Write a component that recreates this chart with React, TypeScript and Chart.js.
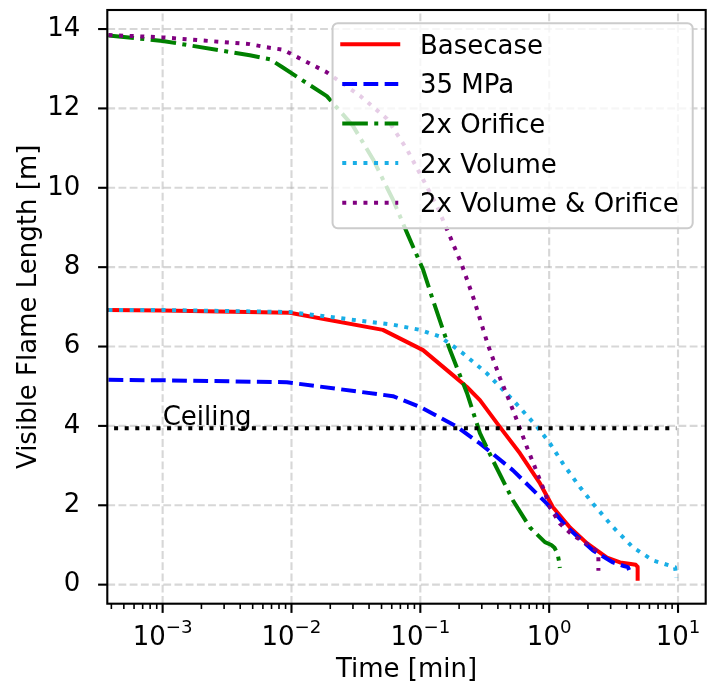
import React, { useEffect, useRef } from 'react';
import { Chart, registerables } from 'chart.js';

Chart.register(...registerables);

const FONT_FAMILY = '"DejaVu Sans", "Liberation Sans", sans-serif';

// Time [min] and visible flame length [m] for each release scenario
const BASECASE_TIME = [3.8e-4, 1e-3, 9.7e-3, 0.0512, 0.105, 0.179, 0.23, 0.29, 0.415, 0.593, 0.849, 1.07, 1.45, 1.97, 2.81, 3.55, 4.3, 4.7, 4.86, 4.86];
const BASECASE_FLAME = [6.92, 6.91, 6.85, 6.42, 5.91, 5.28, 4.98, 4.65, 3.97, 3.31, 2.55, 1.95, 1.44, 1.04, 0.68, 0.56, 0.52, 0.5, 0.45, 0.15];

const MPA35_TIME = [3.8e-4, 1e-3, 9.2e-3, 0.0613, 0.0993, 0.192, 0.29, 0.524, 0.961, 1.375, 2.19, 3.13, 3.8, 4.09, 4.17];
const MPA35_FLAME = [5.16, 5.15, 5.1, 4.75, 4.48, 3.98, 3.56, 2.88, 2.04, 1.45, 0.86, 0.56, 0.47, 0.44, 0.37];

const ORIFICE2X_TIME = [3.8e-4, 1e-3, 4.75e-3, 6.8e-3, 8.57e-3, 0.0188, 0.03, 0.0429, 0.0613, 0.0787, 0.105, 0.125, 0.15, 0.17, 0.23, 0.29, 0.366, 0.524, 0.71, 0.927, 1.04, 1.1, 1.16, 1.2, 1.21];
const ORIFICE2X_FLAME = [13.84, 13.7, 13.34, 13.24, 13.03, 12.31, 11.56, 10.72, 9.7, 8.87, 7.94, 7.18, 6.42, 5.91, 4.83, 3.82, 3.13, 2.12, 1.44, 1.07, 1.0, 0.93, 0.78, 0.55, 0.42];

const VOLUME2X_TIME = [3.8e-4, 1e-3, 9.7e-3, 0.0613, 0.0993, 0.142, 0.214, 0.329, 0.524, 0.804, 1.014, 1.28, 1.73, 2.19, 3.13, 4.47, 6.4, 9.48, 9.7];
const VOLUME2X_FLAME = [6.92, 6.92, 6.87, 6.55, 6.42, 6.25, 5.83, 5.32, 4.65, 3.98, 3.56, 3.05, 2.46, 2.04, 1.45, 0.94, 0.61, 0.44, 0.18];

const VOLUME_ORIFICE_TIME = [3.8e-4, 1e-3, 4.75e-3, 6.44e-3, 8.57e-3, 0.0188, 0.034, 0.0551, 0.0787, 0.105, 0.135, 0.17, 0.21, 0.261, 0.335, 0.415, 0.524, 0.673, 0.895, 1.015, 1.21, 1.53, 2.07, 2.31, 2.41, 2.41];
const VOLUME_ORIFICE_FLAME = [13.85, 13.79, 13.62, 13.54, 13.48, 12.91, 12.32, 11.74, 10.97, 10.21, 9.53, 8.77, 8.06, 7.18, 6.04, 5.21, 4.4, 3.46, 2.45, 1.95, 1.54, 1.24, 0.99, 0.86, 0.73, 0.35];

const CEILING_TIME = [4.2e-4, 9.7];
const CEILING_HEIGHT = 3.94;
const CEILING_LABEL = 'Ceiling';
const CEILING_LABEL_TIME = 1e-3;
const CEILING_LABEL_HEIGHT = 4.02;

const X_TICKS = [1e-3, 1e-2, 1e-1, 1, 10];
const X_TICK_EXPONENTS = ['−3', '−2', '−1', '0', '1'];
const Y_TICKS = [0, 2, 4, 6, 8, 10, 12, 14];

const X_LIMITS = [3.72e-4, 16.4];
const Y_LIMITS = [-0.48, 14.48];

const X_TITLE = 'Time [min]';
const Y_TITLE = 'Visible Flame Length [m]';

const LW = 4;
const SERIES = [
  { label: 'Basecase', time: BASECASE_TIME, flame: BASECASE_FLAME, color: '#ff0000', dash: [] as number[], cap: 'square' },
  { label: '35 MPa', time: MPA35_TIME, flame: MPA35_FLAME, color: '#0000ff', dash: [3.7 * LW, 1.6 * LW], cap: 'butt' },
  { label: '2x Orifice', time: ORIFICE2X_TIME, flame: ORIFICE2X_FLAME, color: '#008000', dash: [6.4 * LW, 1.6 * LW, 1 * LW, 1.6 * LW], cap: 'butt' },
  { label: '2x Volume', time: VOLUME2X_TIME, flame: VOLUME2X_FLAME, color: '#19aee6', dash: [1 * LW, 1.65 * LW], cap: 'butt' },
  { label: '2x Volume & Orifice', time: VOLUME_ORIFICE_TIME, flame: VOLUME_ORIFICE_FLAME, color: '#800080', dash: [1 * LW, 1.65 * LW], cap: 'butt' },
];

const FONT_SIZE = 26;
const TICK_MAJOR = 9.2;
const TICK_MINOR = 5.3;
const SPINE_W = 2.1;

function roundRectPath(ctx: CanvasRenderingContext2D, x: number, y: number, w: number, h: number, r: number) {
  ctx.beginPath();
  ctx.moveTo(x + r, y);
  ctx.lineTo(x + w - r, y);
  ctx.arcTo(x + w, y, x + w, y + r, r);
  ctx.lineTo(x + w, y + h - r);
  ctx.arcTo(x + w, y + h, x + w - r, y + h, r);
  ctx.lineTo(x + r, y + h);
  ctx.arcTo(x, y + h, x, y + h - r, r);
  ctx.lineTo(x, y + r);
  ctx.arcTo(x, y, x + r, y, r);
  ctx.closePath();
}

const axesDecor = {
  id: 'axesDecor',
  beforeDatasetsDraw(chart: any) {
    const { ctx, chartArea } = chart;
    const xs = chart.scales.x;
    const ys = chart.scales.y;
    ctx.save();
    ctx.strokeStyle = 'rgba(176,176,176,0.5)';
    ctx.lineWidth = 2.1;
    ctx.setLineDash([7.8, 3.4]);
    for (const v of X_TICKS) {
      const px = xs.getPixelForValue(v);
      ctx.beginPath();
      ctx.moveTo(px, chartArea.bottom);
      ctx.lineTo(px, chartArea.top);
      ctx.stroke();
    }
    for (const v of Y_TICKS) {
      const py = ys.getPixelForValue(v);
      ctx.beginPath();
      ctx.moveTo(chartArea.left, py);
      ctx.lineTo(chartArea.right, py);
      ctx.stroke();
    }
    ctx.restore();
  },
  afterDatasetsDraw(chart: any) {
    const { ctx, chartArea } = chart;
    const { left, right, top, bottom } = chartArea;
    const xs = chart.scales.x;
    const ys = chart.scales.y;
    ctx.save();

    // ceiling annotation
    ctx.fillStyle = '#000';
    ctx.font = `${FONT_SIZE}px ${FONT_FAMILY}`;
    ctx.textAlign = 'left';
    ctx.textBaseline = 'alphabetic';
    ctx.fillText(CEILING_LABEL, xs.getPixelForValue(CEILING_LABEL_TIME), ys.getPixelForValue(CEILING_LABEL_HEIGHT));

    // spines
    ctx.setLineDash([]);
    ctx.strokeStyle = '#000';
    ctx.lineWidth = SPINE_W;
    ctx.lineJoin = 'miter';
    ctx.strokeRect(left, top, right - left, bottom - top);

    // tick marks
    ctx.lineCap = 'butt';
    ctx.lineWidth = 2.1;
    for (const v of X_TICKS) {
      const px = xs.getPixelForValue(v);
      ctx.beginPath();
      ctx.moveTo(px, bottom);
      ctx.lineTo(px, bottom + TICK_MAJOR);
      ctx.stroke();
    }
    for (const v of Y_TICKS) {
      const py = ys.getPixelForValue(v);
      ctx.beginPath();
      ctx.moveTo(left, py);
      ctx.lineTo(left - TICK_MAJOR, py);
      ctx.stroke();
    }
    ctx.lineWidth = 1.6;
    for (let e = -4; e <= 1; e++) {
      for (let k = 2; k <= 9; k++) {
        const v = k * Math.pow(10, e);
        if (v <= X_LIMITS[0] || v >= X_LIMITS[1]) continue;
        const px = xs.getPixelForValue(v);
        ctx.beginPath();
        ctx.moveTo(px, bottom);
        ctx.lineTo(px, bottom + TICK_MINOR);
        ctx.stroke();
      }
    }

    // x tick labels: 10 with superscript exponent
    ctx.textBaseline = 'alphabetic';
    ctx.textAlign = 'left';
    X_TICKS.forEach((v, i) => {
      const px = xs.getPixelForValue(v);
      ctx.font = `${FONT_SIZE}px ${FONT_FAMILY}`;
      const w1 = ctx.measureText('10').width;
      ctx.font = `${FONT_SIZE * 0.7}px ${FONT_FAMILY}`;
      const w2 = ctx.measureText(X_TICK_EXPONENTS[i]).width;
      const start = px - (w1 + w2) / 2;
      ctx.font = `${FONT_SIZE}px ${FONT_FAMILY}`;
      ctx.fillText('10', start, bottom + 41.3);
      ctx.font = `${FONT_SIZE * 0.7}px ${FONT_FAMILY}`;
      ctx.fillText(X_TICK_EXPONENTS[i], start + w1, bottom + 29.6);
    });

    // legend
    ctx.font = `${FONT_SIZE}px ${FONT_FAMILY}`;
    let textW = 0;
    for (const s of SERIES) textW = Math.max(textW, ctx.measureText(s.label).width);
    const padL = 9.7;
    const handleLen = 56;
    const textPad = 21.7;
    const padR = 14;
    const boxW = padL + handleLen + textPad + textW + padR;
    const boxH = 205;
    const boxRight = right - 13;
    const boxTop = top + 13.3;
    const boxLeft = boxRight - boxW;
    roundRectPath(ctx, boxLeft, boxTop, boxW, boxH, 5.2);
    ctx.fillStyle = 'rgba(255,255,255,0.8)';
    ctx.fill();
    ctx.strokeStyle = '#cccccc';
    ctx.lineWidth = 2;
    ctx.stroke();
    SERIES.forEach((s, i) => {
      const rowY = boxTop + 21 + i * 39.6;
      ctx.save();
      ctx.strokeStyle = s.color;
      ctx.lineWidth = LW;
      ctx.lineCap = s.cap as CanvasLineCap;
      ctx.setLineDash(s.dash);
      ctx.beginPath();
      ctx.moveTo(boxLeft + padL, rowY);
      ctx.lineTo(boxLeft + padL + handleLen, rowY);
      ctx.stroke();
      ctx.restore();
      ctx.fillStyle = '#000';
      ctx.textAlign = 'left';
      ctx.textBaseline = 'alphabetic';
      ctx.fillText(s.label, boxLeft + padL + handleLen + textPad, rowY + 9.5);
    });

    ctx.restore();
  },
};

export default function App() {
  const canvasRef = useRef<HTMLCanvasElement | null>(null);

  useEffect(() => {
    const canvas = canvasRef.current;
    if (!canvas) return;

    const datasets: any[] = SERIES.map((s, i) => ({
      label: s.label,
      data: s.time.map((t, j) => ({ x: t, y: s.flame[j] })),
      borderColor: s.color,
      backgroundColor: s.color,
      borderWidth: LW,
      borderDash: s.dash,
      borderCapStyle: s.cap,
      borderJoinStyle: 'round',
      pointRadius: 0,
      tension: 0,
      fill: false,
      order: SERIES.length - i,
    }));
    datasets.push({
      label: CEILING_LABEL,
      data: CEILING_TIME.map((t) => ({ x: t, y: CEILING_HEIGHT })),
      borderColor: '#000000',
      borderWidth: LW,
      borderDash: [1 * LW, 1.65 * LW],
      borderCapStyle: 'butt',
      pointRadius: 0,
      tension: 0,
      fill: false,
      order: 0,
    });

    const chart = new Chart(canvas, {
      type: 'line',
      data: { datasets },
      options: {
        responsive: false,
        animation: false,
        events: [],
        devicePixelRatio: 1,
        layout: { padding: { top: 10, right: 4.3, left: 0, bottom: 0 } },
        plugins: { legend: { display: false }, tooltip: { enabled: false } },
        scales: {
          x: {
            type: 'logarithmic',
            min: X_LIMITS[0],
            max: X_LIMITS[1],
            grid: { display: false },
            border: { display: false },
            ticks: { display: false },
            title: {
              display: true,
              text: X_TITLE,
              color: '#000',
              font: { family: FONT_FAMILY, size: FONT_SIZE },
              padding: { top: 0, bottom: 0 },
            },
            afterBuildTicks: (scale: any) => {
              scale.ticks = X_TICKS.map((v) => ({ value: v }));
            },
            afterFit: (scale: any) => {
              scale.height = 82.3;
              scale.paddingLeft = 0;
              scale.paddingRight = 0;
            },
          },
          y: {
            type: 'linear',
            min: Y_LIMITS[0],
            max: Y_LIMITS[1],
            grid: { display: false },
            border: { display: false },
            ticks: {
              color: '#000',
              padding: 19,
              font: { family: FONT_FAMILY, size: FONT_SIZE },
              callback: (v: any) => String(v),
            },
            title: {
              display: true,
              text: Y_TITLE,
              color: '#000',
              font: { family: FONT_FAMILY, size: FONT_SIZE },
              padding: { top: 14, bottom: 0 },
            },
            afterBuildTicks: (scale: any) => {
              scale.ticks = Y_TICKS.map((v) => ({ value: v }));
            },
            afterFit: (scale: any) => {
              scale.width = 107.3;
              scale.paddingTop = 0;
              scale.paddingBottom = 0;
            },
          },
        },
      } as any,
      plugins: [axesDecor],
    });

    return () => chart.destroy();
  }, []);

  return (
    <div style={{ position: 'absolute', left: 0, top: 0, width: 710, height: 686, background: '#fff' }}>
      <canvas ref={canvasRef} width={710} height={686} style={{ display: 'block', width: 710, height: 686 }} />
    </div>
  );
}
